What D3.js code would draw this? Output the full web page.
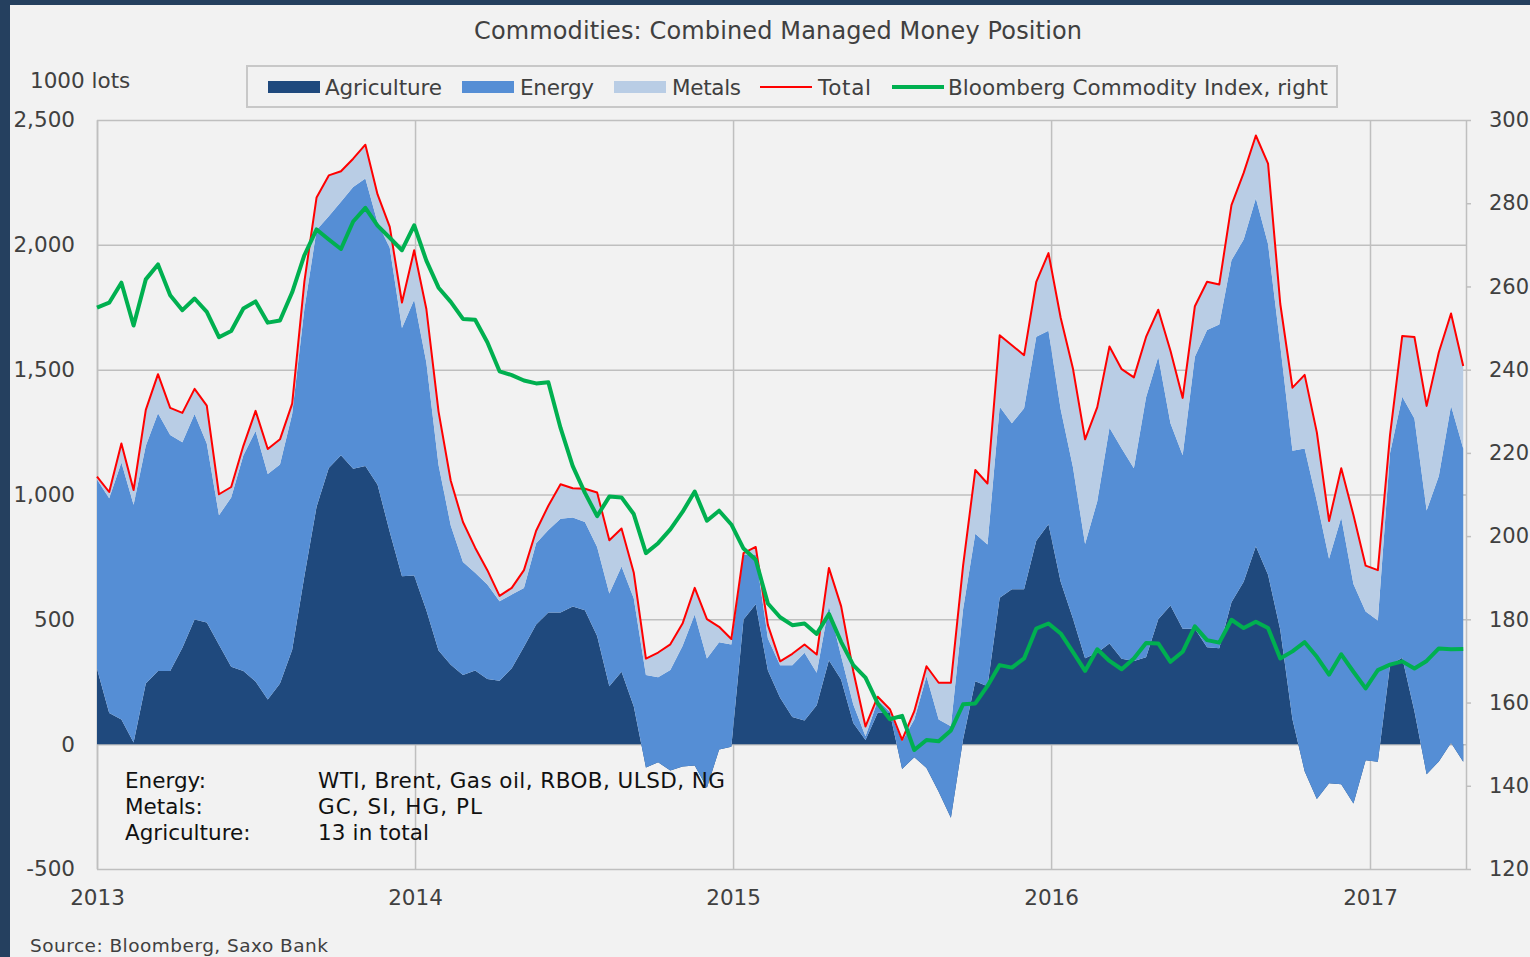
<!DOCTYPE html>
<html><head><meta charset="utf-8">
<script src="https://cdn.jsdelivr.net/npm/d3@7"></script>
<style>
html,body{margin:0;padding:0;background:#f2f2f2;overflow:hidden}
svg{display:block}
text{font-family:"DejaVu Sans",Verdana,sans-serif;fill:#404040}
</style></head><body>
<svg id="chart" width="1530" height="957"></svg>
<script>
// ---------------- data (1000 lots, bi-weekly from 2013-01-01) ----------------
const startDate = "2013-01-01";
const stepDays = 14;
const agriculture = [302,125,99,7,243,293,293,386,499,487,
398,310,293,251,179,243,378,673,951,1106,
1157,1103,1114,1039,850,673,676,536,375,318,
277,295,261,254,304,390,479,527,527,551,
536,433,232,290,152,-93,-72,-105,-89,-85,
-175,-21,-10,499,560,295,186,109,95,156,
336,259,85,17,126,125,-99,-52,-95,-191,
-295,20,252,232,586,620,620,815,881,651,
504,344,366,403,342,333,348,500,555,462,
462,388,384,568,651,793,679,458,100,-108,
-220,-157,-161,-238,-64,-70,317,346,132,-120,
-69,6,-70];
const energy = [758,860,1029,952,952,1032,945,823,823,717,
519,678,864,1003,903,877,944,1070,1108,1008,
1016,1129,1152,1050,1138,994,1104,993,743,558,
453,392,379,318,295,236,326,331,376,357,
354,357,371,422,432,370,340,402,482,604,
518,429,409,261,200,128,130,207,271,130,
217,94,74,15,49,5,111,151,367,290,
367,520,591,568,765,665,725,817,775,690,
607,458,607,864,842,772,1042,1052,730,695,
1090,1271,1297,1370,1370,1394,1324,1140,1075,1292,
1193,900,1069,880,595,565,849,1046,1172,1056,
1143,1349,1254];
const metals = [12,25,76,59,144,157,109,118,101,152,
84,42,38,81,100,101,42,110,131,164,
122,113,135,113,84,102,198,214,214,179,
160,100,57,22,27,71,50,97,138,117,
133,218,214,152,104,66,99,103,90,107,
158,62,22,5,30,54,16,46,33,73,
153,200,133,39,15,10,5,33,40,147,
174,175,255,244,287,313,213,220,311,367,
395,419,377,326,318,364,241,188,291,230,
202,193,160,221,267,251,322,166,253,295,
276,151,197,276,184,202,73,243,327,419,
496,370,331];
const bcom = [254.9,256.1,260.9,250.6,261.7,265.3,257.9,254.3,257.1,253.9,
247.8,249.3,254.7,256.4,251.3,251.8,258.6,267.5,273.7,271.3,
269.0,275.6,278.9,274.6,271.7,268.7,274.7,266.2,259.7,256.3,
252.2,252.0,246.6,239.6,238.7,237.4,236.7,237.0,226.0,216.8,
210.4,204.8,209.5,209.3,205.3,195.9,198.3,201.6,205.8,210.7,
203.7,206.1,202.8,197.0,194.3,183.8,180.5,178.6,179.0,176.5,
181.3,174.6,169.0,166.0,159.8,156.0,156.8,148.6,151.0,150.7,
153.3,159.6,159.8,164.0,169.0,168.4,170.6,177.8,179.0,176.6,
172.2,167.6,172.8,170.0,168.0,170.6,174.3,174.2,169.8,172.2,
178.3,175.0,174.4,179.9,177.9,179.4,177.9,170.6,172.3,174.5,
171.0,166.7,171.6,167.4,163.4,167.8,169.1,169.9,168.2,170.0,
173.0,172.8,172.9];
const leftTicks = [-500,0,500,1000,1500,2000,2500];
const rightTicks = [120,140,160,180,200,220,240,260,280,300];
const yearTicks = ["2013-01-01","2014-01-01","2015-01-01","2016-01-01","2017-01-01"];
const seriesNames = ["Agriculture","Energy","Metals"];
const noteLabels = ["Energy:","Metals:","Agriculture:"];
const noteTexts = ["WTI, Brent, Gas oil, RBOB, ULSD, NG","GC, SI, HG, PL","13 in total"];

(function(){
// ---------------- styles & layout ----------------
const colors = {Agriculture:"#1f497d", Energy:"#558ed5", Metals:"#b9cde5", Total:"#ff0000", BCOM:"#00b050"};
const L = 97, R = 1466, T = 120, B = 869;
const grid = "#bfbfbf";

const svg = d3.select("#chart");
svg.append("rect").attr("x",0).attr("y",0).attr("width",1530).attr("height",957).attr("fill","#f2f2f2");
svg.append("rect").attr("x",0).attr("y",0).attr("width",1530).attr("height",5).attr("fill","#25405f");
svg.append("rect").attr("x",0).attr("y",0).attr("width",10).attr("height",957).attr("fill","#25405f");

const parse = d3.timeParse("%Y-%m-%d");
const t0 = parse(startDate);
const rows = agriculture.map((a,i)=>({
  date: d3.timeDay.offset(t0, i*stepDays),
  Agriculture: a, Energy: energy[i], Metals: metals[i], BCOM: bcom[i]
}));

const x = d3.scaleTime().domain([parse("2013-01-01"), parse("2017-01-01")]).range([L, 1370]);
const y = d3.scaleLinear().domain([-500,2500]).range([B,T]);
const y2 = d3.scaleLinear().domain([120,300]).range([B,T]);

const fmt = d => d3.format(",")(d).replace("\u2212","-");

// left axis with horizontal gridlines
const gL = svg.append("g").attr("transform",`translate(${L},0)`)
  .call(d3.axisLeft(y).tickValues(leftTicks).tickFormat(fmt).tickSize(-(R-L)).tickSizeOuter(0).tickPadding(22));
gL.select(".domain").attr("stroke",grid).attr("stroke-width",1.5);
gL.selectAll(".tick line").attr("stroke",grid).attr("stroke-width",1.5);
gL.selectAll("text").style("font-size","21.5px").attr("fill","#404040");

// bottom axis with vertical gridlines
const gB = svg.append("g").attr("transform",`translate(0,${B})`)
  .call(d3.axisBottom(x).tickValues(yearTicks.map(parse)).tickFormat(d3.timeFormat("%Y")).tickSize(-(B-T)).tickSizeOuter(0).tickPadding(21));
gB.select(".domain").remove();
gB.selectAll(".tick line").attr("stroke",grid).attr("stroke-width",1.5);
gB.selectAll("text").style("font-size","21.5px").attr("fill","#404040");

// right axis
const gR = svg.append("g").attr("transform",`translate(${R},0)`)
  .call(d3.axisRight(y2).tickValues(rightTicks).tickSize(5).tickSizeOuter(0).tickPadding(18));
gR.select(".domain").attr("stroke",grid).attr("stroke-width",1.5);
gR.selectAll(".tick line").attr("stroke",grid).attr("stroke-width",1.5);
gR.selectAll("text").style("font-size","21px").attr("fill","#404040");

// stacked areas
const stack = d3.stack().keys(seriesNames).offset(d3.stackOffsetNone);
const stacked = stack(rows);
const area = d3.area().x(d=>x(d.data.date)).y0(d=>y(d[0])).y1(d=>y(d[1]));
svg.append("g").selectAll("path").data(stacked).join("path")
  .attr("d",area).attr("fill",d=>colors[d.key]);

// total line
const topSeries = stacked[stacked.length-1];
svg.append("path").datum(topSeries)
  .attr("d", d3.line().x(d=>x(d.data.date)).y(d=>y(d[1])))
  .attr("fill","none").attr("stroke",colors.Total).attr("stroke-width",2).attr("stroke-linejoin","round");

// bcom line
svg.append("path").datum(rows)
  .attr("d", d3.line().x(d=>x(d.date)).y(d=>y2(d.BCOM)))
  .attr("fill","none").attr("stroke",colors.BCOM).attr("stroke-width",4).attr("stroke-linejoin","round");

// title
svg.append("text").attr("x",474).attr("y",39).style("font-size","24px")
  .attr("textLength",608).attr("lengthAdjust","spacing")
  .text("Commodities: Combined Managed Money Position");
svg.append("text").attr("x",30).attr("y",88).style("font-size","21.5px").text("1000 lots");

// legend
const lg = svg.append("g");
lg.append("rect").attr("x",247).attr("y",66).attr("width",1090).attr("height",41)
  .attr("fill","#f2f2f2").attr("stroke","#c8c8c8").attr("stroke-width",2);
const legendItems = [
  {name:"Agriculture", type:"box", c:colors.Agriculture, sx:268, tx:325, tw:117},
  {name:"Energy", type:"box", c:colors.Energy, sx:462, tx:520, tw:74},
  {name:"Metals", type:"box", c:colors.Metals, sx:614, tx:672, tw:69},
  {name:"Total", type:"line", c:colors.Total, sx:760, tx:818, tw:53, w:2},
  {name:"Bloomberg Commodity Index, right", type:"line", c:colors.BCOM, sx:892, tx:948, tw:380, w:4}
];
legendItems.forEach(it=>{
  if(it.type==="box"){
    lg.append("rect").attr("x",it.sx).attr("y",81).attr("width",52).attr("height",12).attr("fill",it.c);
  } else {
    lg.append("line").attr("x1",it.sx).attr("x2",it.sx+52).attr("y1",87).attr("y2",87)
      .attr("stroke",it.c).attr("stroke-width",it.w);
  }
  lg.append("text").attr("x",it.tx).attr("y",95).style("font-size","21.5px")
    .attr("textLength",it.tw).attr("lengthAdjust","spacing").text(it.name);
});

// notes
const noteY = [788,814,840];
const noteW = [407,164,111];
noteLabels.forEach((s,i)=>{
  svg.append("text").attr("x",125).attr("y",noteY[i]).style("font-size","21.5px").style("fill","#111").text(s);
  svg.append("text").attr("x",318).attr("y",noteY[i]).style("font-size","21.5px").style("fill","#111")
    .attr("textLength",noteW[i]).attr("lengthAdjust","spacing").text(noteTexts[i]);
});

// source
svg.append("text").attr("x",30).attr("y",952).style("font-size","18.5px")
  .attr("textLength",298).attr("lengthAdjust","spacing").text("Source: Bloomberg, Saxo Bank");
})();
</script>
</body></html>
